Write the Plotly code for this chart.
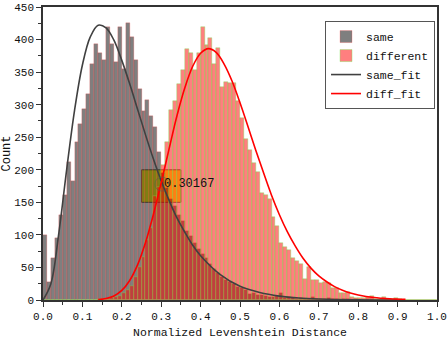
import plotly.graph_objects as go

# ---------------- data ----------------
bin_width = 0.01
bin_left = [i / 100 for i in range(100)]

same_counts = [
    100, 28, 65, 95, 130, 161, 212, 183, 242, 270,
    293, 317, 362, 393, 380, 369, 420, 393, 365, 420,
    355, 425, 404, 369, 324, 290, 307, 282, 266, 228,
    195, 172, 155, 145, 130, 122, 106, 98, 88, 78,
    70, 64, 56, 47, 42, 36, 31, 27, 24, 20,
    18, 15, 9, 11, 7, 8, 6, 4, 5, 6,
    10, 3, 4, 3, 2, 3, 2, 1, 4, 1,
    2, 1, 3, 1, 1, 0, 1, 1, 0, 1,
    0, 0, 1, 2, 0, 0, 0, 0, 0, 2,
    0, 0, 0, 0, 0, 0, 0, 0, 0, 0,
]

diff_counts = [
    0, 0, 0, 0, 0, 0, 0, 0, 0, 0,
    0, 0, 0, 0, 1, 1, 2, 3, 4, 6,
    10, 15, 22, 36, 51, 66, 92, 110, 159, 174,
    207, 243, 292, 306, 331, 354, 385, 379, 353, 380,
    419, 391, 402, 362, 387, 327, 335, 334, 333, 305,
    279, 247, 230, 210, 197, 164, 161, 155, 128, 113,
    87, 82, 77, 64, 60, 56, 33, 51, 31, 30,
    26, 28, 26, 18, 18, 11, 11, 13, 5, 3,
    3, 3, 5, 6, 2, 2, 4, 1, 1, 3,
    1, 0, 0, 0, 0, 0, 0, 0, 0, 0,
]

same_fit_x = [0.00, 0.02, 0.04, 0.06, 0.08, 0.10, 0.12, 0.14, 0.16, 0.18,
              0.20, 0.22, 0.24, 0.26, 0.28, 0.30, 0.32, 0.34, 0.36, 0.38,
              0.40, 0.45, 0.50, 0.55, 0.60, 0.65, 0.70, 0.80, 0.90]
same_fit_y = [0, 25, 102, 200, 291, 361, 404, 422, 418, 399,
              368, 332, 293, 254, 217, 183, 153, 126, 104, 84,
              68, 39, 21, 11.5, 6, 3, 1.6, 0.4, 0.1]

diff_fit_x = [0.14, 0.16, 0.18, 0.20, 0.22, 0.24, 0.26, 0.28, 0.30, 0.32,
              0.34, 0.36, 0.38, 0.40, 0.42, 0.44, 0.46, 0.48, 0.50, 0.52,
              0.54, 0.56, 0.58, 0.60, 0.62, 0.64, 0.66, 0.68, 0.70, 0.72,
              0.74, 0.76, 0.78, 0.80, 0.84, 0.88, 0.92]
diff_fit_y = [0.6, 2.2, 6.2, 14.7, 30, 54, 88, 131, 180, 232,
              283, 326, 359, 379, 386, 380, 362, 336, 303, 267,
              230, 195, 161, 131, 105, 83, 64, 49, 37, 28,
              20.5, 15, 10.8, 7.8, 3.9, 1.9, 0.9]

intersect_x = 0.30167
intersect_y = 178
intersect_label = "0.30167"
box_x = [0.25, 0.35]
box_y = [150, 200]

x_ticks = [0.0, 0.1, 0.2, 0.3, 0.4, 0.5, 0.6, 0.7, 0.8, 0.9, 1.0]
y_ticks = [0, 50, 100, 150, 200, 250, 300, 350, 400, 450]

FONT = "Liberation Mono"
bin_centers = [b + bin_width / 2 for b in bin_left]

# ---------------- figure ----------------
fig = go.Figure()

fig.add_trace(go.Bar(
    x=bin_centers, y=same_counts, width=bin_width, name="same",
    marker=dict(color="rgba(0,0,0,0.5)",
                line=dict(color="rgba(255,70,70,0.7)", width=0.35)),
))
fig.add_trace(go.Bar(
    x=bin_centers, y=diff_counts, width=bin_width, name="different",
    marker=dict(color="rgba(255,0,0,0.5)",
                line=dict(color="rgba(120,230,80,0.85)", width=0.45)),
))
fig.add_trace(go.Scatter(
    x=same_fit_x, y=same_fit_y, mode="lines", name="same_fit",
    line=dict(color="#404040", width=1.6, shape="spline"),
))
fig.add_trace(go.Scatter(
    x=diff_fit_x, y=diff_fit_y, mode="lines", name="diff_fit",
    line=dict(color="#ff0000", width=1.6, shape="spline"),
))
fig.add_trace(go.Scatter(
    x=[intersect_x], y=[intersect_y], mode="markers", showlegend=False,
    marker=dict(symbol="circle-open", size=14,
                color="rgba(90,90,90,0.55)", line=dict(width=1)),
))

fig.add_shape(type="rect", x0=box_x[0], x1=box_x[1], y0=box_y[0], y1=box_y[1],
              xref="x", yref="y", layer="below",
              fillcolor="rgba(255,255,0,0.85)",
              line=dict(color="rgba(60,60,60,0.7)", width=1))

fig.add_annotation(x=intersect_x, y=intersect_y, text=intersect_label,
                   showarrow=False, xanchor="left", yanchor="middle",
                   font=dict(family=FONT, size=12, color="#111"))

axis_common = dict(
    showgrid=False, zeroline=False, showline=True, linecolor="#333",
    linewidth=1.5, mirror=True, ticks="outside", ticklen=5, tickwidth=1,
    tickcolor="#333", tickfont=dict(family=FONT, size=11, color="#111"),
    automargin=False,
)

fig.update_xaxes(
    range=[0, 1.0], tickvals=x_ticks, tickformat=".1f",
    minor=dict(ticks="outside", ticklen=3, dtick=0.05, tickcolor="#333"),
    title=dict(text="Normalized Levenshtein Distance",
               font=dict(family=FONT, size=11.5, color="#111"), standoff=6),
    **axis_common,
)
fig.update_yaxes(
    range=[0, 450], tickvals=y_ticks,
    minor=dict(ticks="outside", ticklen=3, dtick=25, tickcolor="#333"),
    title=dict(text="Count", font=dict(family=FONT, size=12, color="#111"),
               standoff=4),
    **axis_common,
)

fig.update_layout(
    width=448, height=342,
    margin=dict(l=43, r=11, t=7, b=42, autoexpand=False),
    barmode="overlay", bargap=0,
    plot_bgcolor="white", paper_bgcolor="white",
    legend=dict(x=0.995, y=0.952, xanchor="right", yanchor="top",
                bgcolor="white", bordercolor="#555", borderwidth=1,
                font=dict(family=FONT, size=11.5, color="#111"),
                tracegroupgap=0, itemwidth=30),
    showlegend=True,
)

fig.write_html(
    "out.html",
    config={"displayModeBar": False},
    post_script="document.body.style.margin='0';document.body.style.padding='0';",
)
